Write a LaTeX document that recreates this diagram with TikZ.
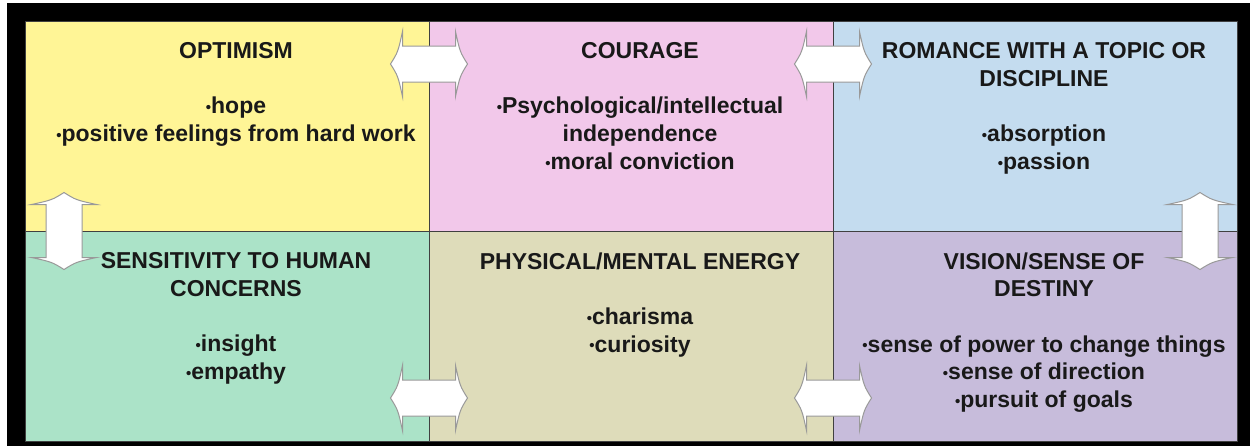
\documentclass[tikz,border=0pt]{standalone}
\usepackage{fontspec}
\setmainfont{Liberation Sans}
\usetikzlibrary{positioning,calc}
\definecolor{optfill}{RGB}{255,245,150}
\definecolor{coufill}{RGB}{242,200,234}
\definecolor{romfill}{RGB}{196,220,239}
\definecolor{senfill}{RGB}{171,227,200}
\definecolor{phyfill}{RGB}{222,220,186}
\definecolor{visfill}{RGB}{199,188,219}
\newcommand{\gap}{\\[13.85pt]}
\newcommand{\bul}{\raisebox{0.6pt}{\fontsize{7.5pt}{7.5pt}\selectfont •}}
\tikzset{
  cell/.style={draw=black!75, line width=0.5pt, minimum width=202pt, minimum height=105pt, inner sep=0pt, outer sep=0pt},
  celltext/.style={anchor=north, align=center, inner sep=0pt, text=black!90, font=\bfseries\fontsize{11.5pt}{13.85pt}\selectfont},
  arrowline/.style={draw=black!40, fill=white, line width=0.5pt},
  dblarrow/.pic={
    \draw[arrowline] (-38.5,0) .. controls (-31,-12) .. (-26.5,-32.5) -- (-26.5,-18) -- (26.5,-18)
      -- (26.5,-32.5) .. controls (31,-12) .. (38.5,0) .. controls (31,12) .. (26.5,32.5)
      -- (26.5,18) -- (-26.5,18) -- (-26.5,32.5) .. controls (-31,12) .. cycle;
  }
}
\begin{document}
\begin{tikzpicture}[x=0.5pt, y=-0.5pt]
\useasboundingbox (0,0) rectangle (1250,446);
\fill[white] (0,0) rectangle (1250,446);
\fill[black] (7,3) rectangle (1250,446);

% top row
\node[cell, fill=optfill, anchor=north west] (opt) at (25,21) {};
\node[cell, fill=coufill, right=0pt of opt] (cou) {};
\node[cell, fill=romfill, right=0pt of cou] (rom) {};
% bottom row
\node[cell, fill=senfill, below=0pt of opt] (sen) {};
\node[cell, fill=phyfill, right=0pt of sen] (phy) {};
\node[cell, fill=visfill, right=0pt of phy] (vis) {};

% texts
\node[celltext] (optt) at ($(opt.north)+(9,21)$) {OPTIMISM\gap \bul hope\\ \bul positive feelings from hard work};
\node[celltext] (cout) at ($(cou.north)+(9,21)$) {COURAGE\gap \bul Psychological/intellectual\\ independence\\ \bul moral conviction};
\node[celltext] (romt) at ($(rom.north)+(9,21)$) {ROMANCE WITH A TOPIC OR\\ DISCIPLINE\gap \bul absorption\\ \bul passion};
\node[celltext] (sent) at ($(sen.north)+(9,21)$) {SENSITIVITY TO HUMAN\\ CONCERNS\gap \bul insight\\ \bul empathy};
\node[celltext] (phyt) at ($(phy.north)+(9,21)$) {PHYSICAL/MENTAL ENERGY\gap \bul charisma\\ \bul curiosity};
\node[celltext] (vist) at ($(vis.north)+(9,21)$) {VISION/SENSE OF\\ DESTINY\gap \bul sense of power to change things\\ \bul sense of direction\\ \bul pursuit of goals};

% double arrows
\pic at ($(opt.north east)+(0,43)$) {dblarrow};
\pic at ($(cou.north east)+(0,43)$) {dblarrow};
\pic[rotate=90] at ($(opt.south west)+(39,0)$) {dblarrow};
\pic[rotate=90] at ($(rom.south east)+(-37,0)$) {dblarrow};
\pic at ($(sen.south east)+(0,-43)$) {dblarrow};
\pic at ($(phy.south east)+(0,-43)$) {dblarrow};
\end{tikzpicture}
\end{document}
